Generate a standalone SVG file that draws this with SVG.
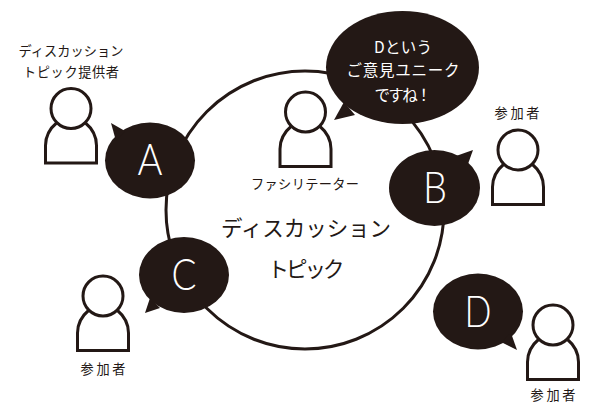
<svg xmlns="http://www.w3.org/2000/svg" xmlns:xlink="http://www.w3.org/1999/xlink" width="600" height="413" viewBox="0 0 600 413">
<style>
text{font-family:"Noto Sans CJK JP","Noto Sans",sans-serif;text-anchor:middle;font-weight:400}
.lb{font-size:13.2px;fill:#231815}
.ct{font-size:21.5px;fill:#231815}
.sp{font-size:15.5px;fill:#fff}
.L{font-family:"Lato","Liberation Sans",sans-serif;font-size:43px;fill:#fff;font-weight:300}
.b{fill:#231815}
.p{fill:#fff;stroke:#231815;stroke-width:3}
</style>
<defs>
<g id="person">
<path class="p" d="M-25.5 54.5V37C-25.5 27-20 19-14 14H14C20 19 25.5 27 25.5 37V54.5Z"/>
<circle class="p" cx="0" cy="0" r="20"/>
</g>
</defs>
<rect width="600" height="413" fill="#fff"/>
<g id="connectors"><circle cx="305" cy="210" r="139" fill="none" stroke="#231815" stroke-width="3"/></g>
<g id="node-topic"><text class="ct" x="306" y="236" textLength="170">ディスカッション</text><text class="ct" x="306" y="277" textLength="77">トピック</text></g>
<g id="node-a">
<use xlink:href="#person" href="#person" x="71" y="108.5"/>
<text class="lb" x="71" y="56" textLength="105">ディスカッション</text>
<text class="lb" x="71" y="77" textLength="96">トピック提供者</text>
<ellipse class="b" cx="150" cy="160.5" rx="45" ry="38"/>
<path class="b" d="M111 123L125 131L116 141Z"/>
<text class="L" x="150" y="175" textLength="25" lengthAdjust="spacingAndGlyphs">A</text>
</g>
<g id="node-facilitator">
<use xlink:href="#person" href="#person" x="305.5" y="112"/>
<text class="lb" x="305" y="189" textLength="108">ファシリテーター</text>
<ellipse class="b" cx="402.5" cy="67.5" rx="76.5" ry="56.5"/>
<path class="b" d="M334 120L344 102L355 115Z"/>
<text class="sp" x="403" y="53" textLength="58">Dという</text>
<text class="sp" x="403" y="76" textLength="113">ご意見ユニーク</text>
<text class="sp" x="403" y="101" textLength="57">ですね！</text>
</g>
<g id="node-b">
<use xlink:href="#person" href="#person" x="518" y="150"/>
<text class="lb" x="517" y="118" textLength="45">参加者</text>
<ellipse class="b" cx="434.5" cy="188" rx="45.5" ry="38"/>
<path class="b" d="M473 150L456 156L468 164Z"/>
<text class="L" x="435" y="203" textLength="24" lengthAdjust="spacingAndGlyphs">B</text>
</g>
<g id="node-c">
<use xlink:href="#person" href="#person" x="103" y="296"/>
<text class="lb" x="103" y="374" textLength="45">参加者</text>
<ellipse class="b" cx="184" cy="275" rx="45" ry="38"/>
<path class="b" d="M145 313L150 298L160 308Z"/>
<text class="L" x="184" y="290" textLength="25" lengthAdjust="spacingAndGlyphs">C</text>
</g>
<g id="node-d">
<use xlink:href="#person" href="#person" x="553" y="325"/>
<text class="lb" x="553" y="400" textLength="45">参加者</text>
<ellipse class="b" cx="478" cy="311.5" rx="45" ry="38"/>
<path class="b" d="M517 350L501 342L511 333Z"/>
<text class="L" x="478" y="327" textLength="27" lengthAdjust="spacingAndGlyphs">D</text>
</g>
</svg>
